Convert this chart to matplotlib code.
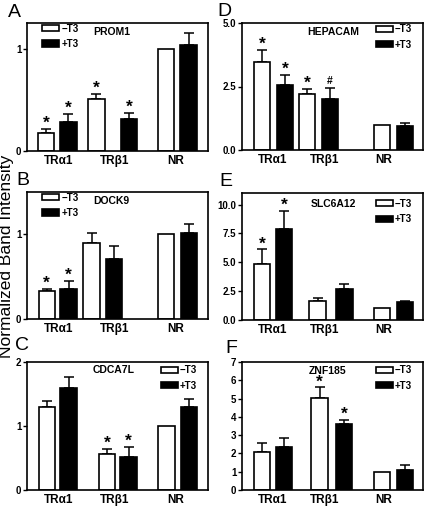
import numpy as np
import matplotlib
matplotlib.use('Agg')
import matplotlib.pyplot as plt

plt.rcParams['font.family'] = ['Liberation Sans', 'DejaVu Sans']

groups = ['TRα1', 'TRβ1', 'NR']
legend_labels = ['\u2212T3', '+T3']

# PROM1
prom1_minus = [0.18, 0.51, 1.0]
prom1_minus_err = [0.035, 0.05, 0.0]
prom1_plus = [0.28, 0.31, 1.04]
prom1_plus_err = [0.08, 0.06, 0.11]
prom1_marks_minus = ['*', '*', '']
prom1_marks_plus = ['*', '*', '']

# DOCK9
dock9_minus = [0.33, 0.90, 1.0]
dock9_minus_err = [0.03, 0.12, 0.0]
dock9_plus = [0.36, 0.71, 1.01]
dock9_plus_err = [0.09, 0.15, 0.11]
dock9_marks_minus = ['*', '', '']
dock9_marks_plus = ['*', '', '']

# CDCA7L
cdca7l_minus = [1.30, 0.56, 1.0]
cdca7l_minus_err = [0.09, 0.08, 0.0]
cdca7l_plus = [1.60, 0.52, 1.30]
cdca7l_plus_err = [0.17, 0.15, 0.12]
cdca7l_marks_minus = ['', '*', '']
cdca7l_marks_plus = ['', '*', '']

# HEPACAM
hepacam_minus = [3.46, 2.19, 1.0]
hepacam_minus_err = [0.47, 0.21, 0.0]
hepacam_plus = [2.54, 2.00, 0.94]
hepacam_plus_err = [0.43, 0.46, 0.14]
hepacam_marks_minus = ['*', '*', '']
hepacam_marks_plus = ['*', '#', '']

# SLC6A12
slc6a12_minus = [4.81, 1.64, 1.0]
slc6a12_minus_err = [1.30, 0.23, 0.0]
slc6a12_plus = [7.87, 2.65, 1.53]
slc6a12_plus_err = [1.58, 0.46, 0.14]
slc6a12_marks_minus = ['*', '', '']
slc6a12_marks_plus = ['*', '', '']

# ZNF185
znf185_minus = [2.09, 5.05, 1.0]
znf185_minus_err = [0.47, 0.56, 0.0]
znf185_plus = [2.36, 3.61, 1.12]
znf185_plus_err = [0.49, 0.23, 0.22]
znf185_marks_minus = ['', '*', '']
znf185_marks_plus = ['', '*', '']

W, H = 425, 507
fig = plt.figure(figsize=(W / 100, H / 100), dpi=100)


def px_axes(x0, y0, x1, y1):
    return fig.add_axes([x0 / W, 1 - y1 / H, (x1 - x0) / W, (y1 - y0) / H])


left_lbl = [1.95, 5.32, 9.05]
right_lbl = [1.85, 5.0, 8.6]

panels = [
    dict(letter='A', gene='PROM1', box=(27, 23, 208, 151), lpos=(8, 17),
         data=(prom1_minus, prom1_minus_err, prom1_plus, prom1_plus_err, prom1_marks_minus, prom1_marks_plus),
         xm=[1.15, 4.22, 8.45], xp=[2.52, 6.2, 9.82], lbl=left_lbl,
         ylim=1.25, ticks=[0, 1], fmt='%g', leg=(0.085, 0.995), gtxt=(0.47, 0.93)),
    dict(letter='B', gene='DOCK9', box=(27, 192, 208, 319), lpos=(16, 185),
         data=(dock9_minus, dock9_minus_err, dock9_plus, dock9_plus_err, dock9_marks_minus, dock9_marks_plus),
         xm=[1.20, 3.93, 8.45], xp=[2.53, 5.28, 9.83], lbl=left_lbl,
         ylim=1.5, ticks=[0, 1], fmt='%g', leg=(0.085, 0.995), gtxt=(0.464, 0.93)),
    dict(letter='C', gene='CDCA7L', box=(27, 362, 208, 490), lpos=(15, 350),
         data=(cdca7l_minus, cdca7l_minus_err, cdca7l_plus, cdca7l_plus_err, cdca7l_marks_minus, cdca7l_marks_plus),
         xm=[1.20, 4.85, 8.47], xp=[2.53, 6.18, 9.83], lbl=left_lbl,
         ylim=2, ticks=[0, 1, 2], fmt='%g', leg=(0.74, 0.975), gtxt=(0.48, 0.935)),
    dict(letter='D', gene='HEPACAM', box=(242, 23, 423, 150), lpos=(217, 16),
         data=(hepacam_minus, hepacam_minus_err, hepacam_plus, hepacam_plus_err, hepacam_marks_minus, hepacam_marks_plus),
         xm=[1.23, 3.95, 8.5], xp=[2.61, 5.35, 9.9], lbl=right_lbl,
         ylim=5, ticks=[0, 2.5, 5], fmt='%.1f', leg=(0.74, 0.99), gtxt=(0.503, 0.93)),
    dict(letter='E', gene='SLC6A12', box=(242, 193, 423, 320), lpos=(219, 186),
         data=(slc6a12_minus, slc6a12_minus_err, slc6a12_plus, slc6a12_plus_err, slc6a12_marks_minus, slc6a12_marks_plus),
         xm=[1.23, 4.59, 8.5], xp=[2.55, 6.22, 9.9], lbl=right_lbl,
         ylim=11, ticks=[0, 2.5, 5, 7.5, 10], fmt='%.1f', leg=(0.74, 0.955), gtxt=(0.503, 0.913)),
    dict(letter='F', gene='ZNF185', box=(242, 362, 423, 490), lpos=(225, 353),
         data=(znf185_minus, znf185_minus_err, znf185_plus, znf185_plus_err, znf185_marks_minus, znf185_marks_plus),
         xm=[1.22, 4.72, 8.5], xp=[2.55, 6.2, 9.9], lbl=right_lbl,
         ylim=7, ticks=list(range(8)), fmt='%g', leg=(0.74, 0.975), gtxt=(0.47, 0.93)),
]


def mark(ax, x, top, s):
    if not s:
        return
    fs = 12.5 if s == '*' else 7.5
    ax.annotate(s, (x, top), xytext=(0, -1.5 if s == '*' else 1), textcoords='offset points',
                ha='center', va='bottom', fontsize=fs, fontweight='bold')


for p in panels:
    ax = px_axes(*p['box'])
    m, me, pl, pe, mm, mp = p['data']
    m, me, pl, pe = map(np.array, (m, me, pl, pe))
    xm, xp = np.array(p['xm']), np.array(p['xp'])
    b1 = ax.bar(xm, m, width=1.0, color='white', edgecolor='black', linewidth=1.2, zorder=2)
    b2 = ax.bar(xp, pl, width=1.0, color='black', edgecolor='black', linewidth=1.2, zorder=2)
    for xs, ys, es in ((xm, m, me), (xp, pl, pe)):
        k = es > 0
        ax.errorbar(xs[k], ys[k], yerr=[np.zeros(k.sum()), es[k]], fmt='none',
                    ecolor='black', elinewidth=1.1, capsize=3.5, capthick=1.1, zorder=1)
    for i in range(3):
        mark(ax, xm[i], m[i] + me[i], mm[i])
        mark(ax, xp[i], pl[i] + pe[i], mp[i])
    ax.set_xlim(0, 11)
    ax.set_ylim(0, p['ylim'])
    ax.set_yticks(p['ticks'])
    ax.set_yticklabels([p['fmt'] % t for t in p['ticks']], fontsize=7, fontweight='bold')
    ax.set_xticks(p['lbl'])
    ax.set_xticklabels(groups, fontsize=8.5, fontweight='bold')
    ax.tick_params(axis='x', length=0, pad=3)
    ax.tick_params(axis='y', direction='out', length=3, width=1, pad=1)
    for sp in ax.spines.values():
        sp.set_linewidth(1.2)
    ax.legend([b1, b2], legend_labels, loc='upper left', bbox_to_anchor=p['leg'],
              frameon=False, prop={'weight': 'bold', 'size': 7},
              handlelength=1.75, handleheight=0.6, handletextpad=0.2,
              labelspacing=0.55, borderpad=0, borderaxespad=0)
    ax.text(p['gtxt'][0], p['gtxt'][1], p['gene'], transform=ax.transAxes,
            ha='center', va='center', fontsize=7.5, fontweight='bold')
    fig.text(p['lpos'][0] / W, 1 - p['lpos'][1] / H, p['letter'], fontsize=14,
             ha='left', va='baseline')

fig.text(7 / W, 1 - 256 / H, 'Normalized Band Intensity', rotation=90,
         ha='center', va='center', fontsize=12.5)

fig.savefig('out.png', dpi=100)
